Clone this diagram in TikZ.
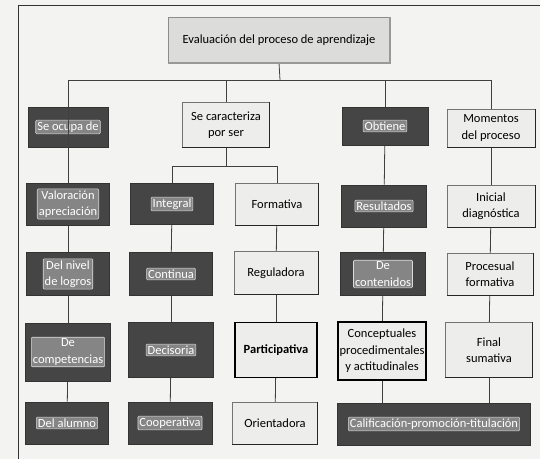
\documentclass[tikz,border=0pt]{standalone}
\usepackage{fontspec}
\setmainfont{Carlito}
\usetikzlibrary{backgrounds}
\definecolor{paper}{HTML}{F3F3F1}
\definecolor{darkfill}{HTML}{454545}
\definecolor{lightfill}{HTML}{EDEDEB}
\definecolor{mainfill}{HTML}{DCDCDA}
\tikzset{
  base/.style={inner sep=1.5pt, align=center, font=\fontsize{12.5}{16.5}\selectfont},
  darkbox/.style={base, fill=darkfill, draw=black!80, line width=0.6pt},
  darklabel/.style={base, fill=black!48, draw=white!85!black, line width=0.6pt,
    rounded corners=1pt, inner sep=1.5pt, text=white},
  lightbox/.style={base, fill=lightfill, draw=black!55, line width=0.5pt},
  heavybox/.style={base, fill=lightfill, draw=black, line width=1.3pt},
  mainbox/.style={base, fill=mainfill, draw=black!45, line width=0.5pt},
  ltshadow/.style={draw=black!85, line width=1.3pt},
  mainshadow/.style={draw=black!40, line width=1.6pt},
  conn/.style={draw=black!75, line width=0.8pt},
  frameline/.style={draw=black!80, line width=0.8pt}
}
\newcommand\dkbox[5]{%
  \node[darkbox, minimum width=#3, minimum height=#4] (#1) at #2 {};
  \node[darklabel] (#1t) at (#1) {#5};}
\newcommand\ltbox[5]{%
  \node[lightbox, minimum width=#3, minimum height=#4] (#1) at #2 {#5};
  \draw[ltshadow] (#1.north east) -- (#1.south east) -- (#1.south west);}
\newcommand\hvbox[5]{%
  \node[heavybox, minimum width=#3, minimum height=#4] (#1) at #2 {#5};}
\begin{document}
\begin{tikzpicture}[x=1pt, y=-1pt]
\useasboundingbox (0,0) rectangle (540,459);
% title
\node[mainbox, minimum width=222pt, minimum height=45pt] (main) at (279,40) {Evaluación del proceso de aprendizaje};
\draw[mainshadow] (main.north east) -- (main.south east) -- (main.south west);
% level 1
\dkbox{ocupa}{(68,127)}{80pt}{40pt}{Se ocupa de}
\ltbox{carac}{(226,125)}{87pt}{45pt}{Se caracteriza\\por ser}
\dkbox{obtiene}{(385,126)}{86pt}{38pt}{Obtiene}
\ltbox{momentos}{(491,128)}{88pt}{38pt}{Momentos\\del proceso}
% level 2
\dkbox{valor}{(68,204)}{83pt}{42pt}{Valoración\\apreciación}
\dkbox{integral}{(172,204)}{83pt}{41pt}{Integral}
\ltbox{formativa}{(277,204)}{83pt}{42pt}{Formativa}
\dkbox{resultados}{(384,206)}{85pt}{42pt}{Resultados}
\ltbox{inicial}{(491,206)}{88pt}{42pt}{Inicial\\diagnóstica}
% level 3
\dkbox{nivel}{(68,274)}{83pt}{43pt}{Del nivel\\de logros}
\dkbox{continua}{(171,274)}{83pt}{43pt}{Continua}
\ltbox{reguladora}{(276,273)}{84pt}{43pt}{Reguladora}
\dkbox{contenidos}{(383,274)}{85pt}{43pt}{De\\contenidos}
\ltbox{procesual}{(490,274)}{86pt}{42pt}{Procesual\\formativa}
% level 4
\dkbox{compet}{(68,352)}{85pt}{58pt}{De\\competencias}
\dkbox{decisoria}{(171,350)}{85pt}{55pt}{Decisoria}
\hvbox{particip}{(276,350)}{82pt}{55pt}{\bfseries Participativa}
\hvbox{concept}{(382,351)}{85pt}{58pt}{Conceptuales\\procedimentales\\y actitudinales}
\ltbox{final}{(489,350)}{87pt}{55pt}{Final\\sumativa}
% level 5
\dkbox{alumno}{(67,423)}{83pt}{42pt}{Del alumno}
\dkbox{cooper}{(170,423)}{84pt}{42pt}{Cooperativa}
\ltbox{orient}{(275,423)}{85pt}{42pt}{Orientadora}
\dkbox{calif}{(434,424)}{193pt}{42pt}{Calificación-promoción-titulación}
% junctions
\coordinate (mbar) at (280,80);
\coordinate (cbar) at (226,166);
\begin{pgfonlayer}{background}
  \fill[paper] (0,0) rectangle (540,459);
  \draw[frameline] (18,459) -- (18,5) -- (540,5);
  \draw[conn] (main.south) -- (mbar);
  \draw[conn] (carac.north) |- (mbar);
  \draw[conn] (obtiene.north) |- (mbar);
  \draw[conn] (momentos.north) |- (mbar);
  \draw[conn] (carac.south) -- (cbar);
  \draw[conn] (integral.north) |- (cbar);
  \draw[conn] (formativa.north) |- (cbar);
  \draw[conn] (valor) -- (nivel);
  \draw[conn] (nivel) -- (compet);
  \draw[conn] (compet) -- (alumno);
  \draw[conn] (integral) -- (continua);
  \draw[conn] (continua) -- (decisoria);
  \draw[conn] (decisoria) -- (cooper);
  \draw[conn] (formativa) -- (reguladora);
  \draw[conn] (reguladora) -- (particip);
  \draw[conn] (particip) -- (orient);
  \draw[conn] (obtiene) -- (resultados);
  \draw[conn] (resultados) -- (contenidos);
  \draw[conn] (contenidos) -- (concept);
  \draw[conn] (concept) -- (concept |- calif.north);
  \draw[conn] (momentos) -- (inicial);
  \draw[conn] (inicial) -- (procesual);
  \draw[conn] (procesual) -- (final);
  \draw[conn] (final) -- (final |- calif.north);
\end{pgfonlayer}
% the left stem runs over the first box
\draw[conn] (valor.north) |- (mbar);
\end{tikzpicture}
\end{document}
